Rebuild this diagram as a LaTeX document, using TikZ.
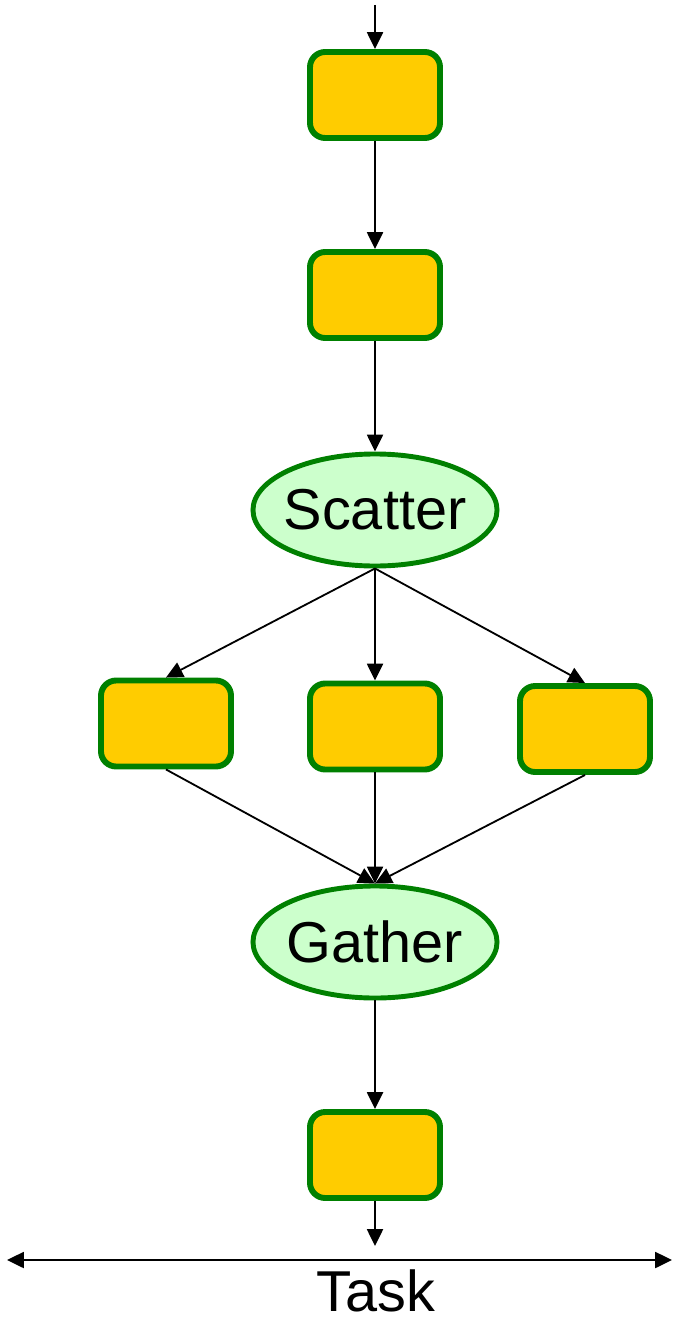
\documentclass[tikz,border=0pt]{standalone}
\usepackage{fontspec}
\setmainfont{Liberation Sans}
\usetikzlibrary{arrows.meta,shapes.geometric}
\definecolor{boxfill}{HTML}{FFCC00}
\definecolor{boxedge}{HTML}{008000}
\definecolor{ellfill}{HTML}{CCFFCC}
\begin{document}
\begin{tikzpicture}[x=0.025cm,y=-0.025cm,
  taskbox/.style={draw=boxedge,fill=boxfill,line width=4.2pt,rounded corners=0.38cm,
    minimum width=3.25cm,minimum height=2.15cm,inner sep=0pt},
  phase/.style={ellipse,draw=boxedge,fill=ellfill,line width=3.5pt,
    minimum width=6.1cm,minimum height=2.8cm,inner sep=0pt,font=\fontsize{41}{41}\selectfont},
  conn/.style={line width=1.3pt,-{Triangle[length=0.42cm,width=0.4cm]}}]
\useasboundingbox (0,0) rectangle (672,1320);
\coordinate (top) at (375,5);
\node[taskbox] (b1) at (375,95) {};
\node[taskbox] (b2) at (375,295) {};
\node[phase] (sc) at (375,510) {\makebox[0pt]{Scatter}};
\node[taskbox] (l) at (166,723.5) {};
\node[taskbox] (m) at (375,726.5) {};
\node[taskbox] (r) at (585,729) {};
\node[phase] (ga) at (375,942) {\makebox[0pt]{Gather}};
\node[taskbox] (b5) at (375,1155) {};
\coordinate (end) at (375,1246);
\coordinate (tl) at (7,1260);
\coordinate (tr) at (672,1260);
\node[font=\fontsize{41}{41}\selectfont,inner sep=0pt] (task) at (376,1291) {Task};
\draw[conn] (top) -- (b1.north);
\draw[conn] (b1.south) -- (b2.north);
\draw[conn] (b2.south) -- (sc.north);
\draw[conn] (sc.south) -- (l.north);
\draw[conn] (sc.south) -- (m.north);
\draw[conn] (sc.south) -- (r.north);
\draw[conn] (l.south) -- (ga.north);
\draw[conn] (m.south) -- (ga.north);
\draw[conn] (r.south) -- (ga.north);
\draw[conn] (ga.south) -- (b5.north);
\draw[conn] (b5.south) -- (end);
\draw[line width=1.3pt,{Triangle[length=0.42cm,width=0.4cm]}-{Triangle[length=0.42cm,width=0.4cm]}] (tl) -- (tr);
\end{tikzpicture}
\end{document}
